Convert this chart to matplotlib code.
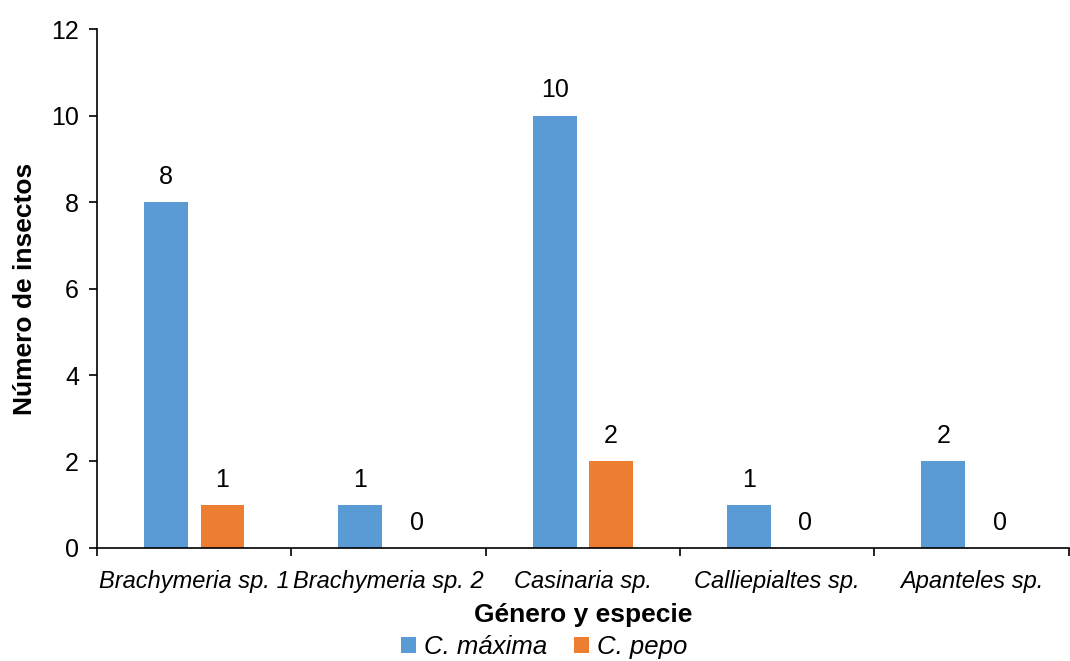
import numpy as np
import matplotlib.pyplot as plt

plt.rcParams['font.family'] = ['Liberation Sans', 'DejaVu Sans']

categories = ["Brachymeria sp. 1", "Brachymeria sp. 2", "Casinaria sp.",
              "Calliepialtes sp.", "Apanteles sp."]
c_maxima = [8, 1, 10, 1, 2]
c_pepo = [1, 0, 2, 0, 0]

blue = "#5b9bd5"
orange = "#ed7d31"

fig = plt.figure(figsize=(10.70, 6.61), dpi=100)
ax = fig.add_axes([0.0907, 0.171, 0.908, 0.785])

x = np.arange(len(categories))
w = 0.225
off = 0.145
b1 = ax.bar(x - off, c_maxima, w, color=blue, label="C. máxima")
b2 = ax.bar(x + off, c_pepo, w, color=orange, label="C. pepo")

for bars, vals in ((b1, c_maxima), (b2, c_pepo)):
    for r, v in zip(bars, vals):
        ax.annotate(str(v), (r.get_x() + r.get_width() / 2, v),
                    xytext=(0, 9.5), textcoords="offset points",
                    ha="center", va="bottom", fontsize=18)

ax.set_xlim(-0.5, len(categories) - 0.5)
ax.set_ylim(0, 12)
ax.set_yticks(range(0, 13, 2))
ax.tick_params(axis="y", labelsize=18, direction="out", length=6, width=1.2, pad=7)
ax.set_xticks(x)
ax.set_xticklabels(categories, fontsize=17, style="italic")
ax.tick_params(axis="x", which="major", length=0, pad=16)
ax.set_xticks(np.arange(-0.5, len(categories), 1), minor=True)
ax.tick_params(axis="x", which="minor", length=6, width=1.2, direction="out")

for s in ("top", "right"):
    ax.spines[s].set_visible(False)
for s in ("left", "bottom"):
    ax.spines[s].set_linewidth(1.2)

ax.set_ylabel("Número de insectos", fontsize=19, fontweight="bold", labelpad=10)
ax.set_xlabel("Género y especie", fontsize=19, fontweight="bold", labelpad=7)

leg = ax.legend(loc="upper center", bbox_to_anchor=(0.46, -0.138), ncol=2,
                frameon=False, prop={"size": 18.5, "style": "italic"},
                handlelength=0.6, handleheight=0.6, handletextpad=0.3,
                columnspacing=1.05, borderpad=0.1)

fig.savefig("out.png", dpi=100)
